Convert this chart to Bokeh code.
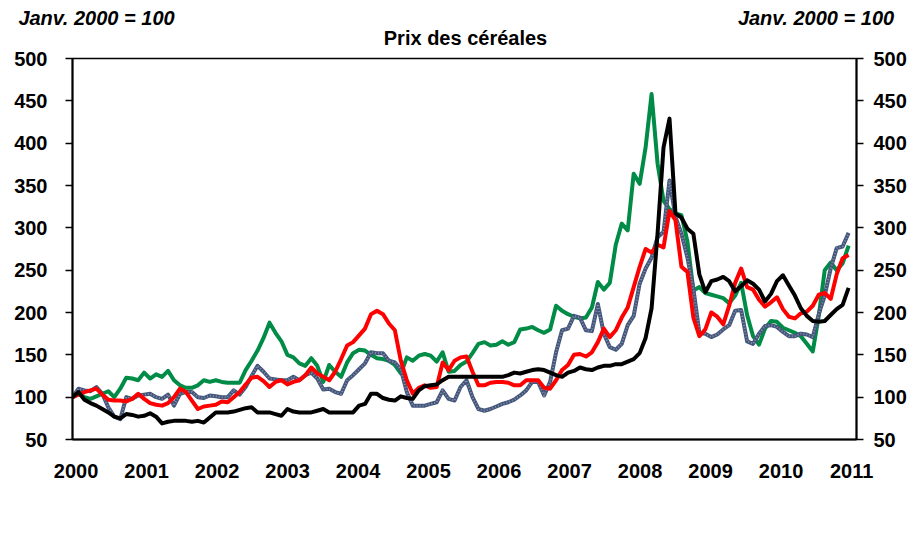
from bokeh.plotting import figure
from bokeh.models import (Range1d, LinearAxis, FixedTicker, CustomJSTickFormatter,
                          Legend, LegendItem, ColumnDataSource)
from bokeh.embed import file_html
from bokeh.resources import INLINE

# ---------------- data (monthly index, Jan 2000 = 100) ----------------
year_labels = ["2000", "2001", "2002", "2003", "2004", "2005",
               "2006", "2007", "2008", "2009", "2010", "2011"]
y_ticks = [50, 100, 150, 200, 250, 300, 350, 400, 450, 500]
unit_note = "Janv. 2000 = 100"
chart_title = "Prix des céréales"

ble = [100, 104, 100, 98, 101, 104, 107, 100, 110, 123, 122, 120,
       129, 122, 127, 124, 131, 120, 114, 111, 111, 114, 120, 118,
       120, 118, 117, 117, 117, 132, 143, 155, 170, 188, 176, 166,
       150, 147, 140, 137, 146, 137, 118, 138, 130, 124, 141, 152,
       156, 155, 150, 146, 145, 143, 138, 128, 147, 143, 149, 151,
       149, 142, 153, 130, 131, 138, 142, 152, 163, 165, 161, 162,
       166, 162, 165, 180, 181, 183, 179, 176, 180, 208, 202, 198,
       195, 193, 194, 206, 236, 227, 235, 280, 305, 297, 364, 352,
       395, 458, 376, 332, 322, 317, 315, 284, 226, 230, 223, 221,
       219, 217, 211, 220, 235, 197, 172, 162, 181, 190, 189, 182,
       179, 176, 172, 163, 154, 196, 250, 259, 250, 258, 279]

mais = [100, 110, 108, 107, 112, 104, 88, 77, 74, 100, 98, 102,
        103, 104, 100, 98, 103, 90, 104, 106, 106, 100, 99, 102,
        101, 100, 100, 108, 103, 112, 125, 137, 130, 122, 121, 120,
        120, 124, 120, 126, 129, 122, 109, 110, 106, 104, 120, 126,
        133, 140, 153, 152, 152, 143, 141, 133, 106, 90, 90, 90,
        92, 94, 108, 98, 96, 112, 120, 100, 86, 84, 86, 89,
        92, 94, 97, 102, 108, 118, 118, 102, 118, 153, 179, 181,
        196, 194, 179, 178, 210, 175, 159, 156, 163, 185, 196, 234,
        252, 265, 289, 295, 356, 313, 293, 265, 228, 176, 175, 171,
        174, 180, 185, 202, 203, 166, 163, 175, 184, 185, 183, 177,
        172, 172, 175, 174, 171, 198, 220, 252, 276, 278, 294]

soya = [100, 103, 106, 108, 110, 103, 97, 96, 96, 95, 98, 104,
        98, 93, 91, 90, 93, 100, 110, 106, 96, 86, 89, 90,
        91, 95, 94, 100, 106, 115, 123, 124, 119, 112, 118, 120,
        115, 118, 120, 126, 135, 128, 124, 120, 130, 145, 161, 165,
        173, 181, 198, 202, 198, 187, 179, 143, 120, 104, 111, 114,
        111, 112, 141, 132, 143, 147, 148, 130, 114, 114, 117, 118,
        118, 117, 114, 114, 120, 120, 120, 111, 110, 120, 132, 138,
        150, 151, 148, 153, 165, 181, 171, 179, 194, 206, 230, 254,
        275, 271, 280, 277, 320, 309, 254, 248, 194, 172, 180, 200,
        195, 186, 208, 235, 252, 230, 227, 215, 207, 212, 218, 204,
        195, 193, 199, 201, 208, 221, 223, 216, 245, 264, 268]

riz = [100, 106, 97, 93, 90, 86, 82, 77, 75, 80, 79, 77,
       78, 81, 77, 69, 71, 72, 72, 72, 71, 72, 70, 76,
       82, 82, 82, 83, 85, 87, 88, 82, 82, 82, 80, 78,
       86, 83, 82, 82, 82, 84, 86, 82, 82, 82, 82, 82,
       90, 92, 104, 104, 99, 97, 96, 101, 99, 98, 108, 113,
       114, 115, 120, 124, 124, 124, 124, 124, 124, 124, 124, 124,
       124, 126, 129, 128, 130, 132, 133, 132, 129, 126, 124, 129,
       131, 135, 133, 132, 135, 137, 137, 139, 139, 142, 145, 152,
       170, 205, 293, 395, 429, 317, 312, 299, 293, 245, 224, 237,
       239, 242, 237, 225, 231, 238, 234, 227, 213, 222, 237, 244,
       232, 220, 205, 196, 190, 189, 190, 197, 204, 209, 229]

months = list(range(len(ble)))
src = ColumnDataSource(dict(m=months, ble=ble, mais=mais, soya=soya, riz=riz))

FONT = "Liberation Sans"
FS = "20px"
PX_PER_MONTH = 5.97          # horizontal scale of the 784 px wide frame

p = figure(width=910, height=541, frame_width=784, frame_height=381,
           x_range=Range1d(0, 784 / PX_PER_MONTH), y_range=Range1d(50, 500),
           output_backend="svg", toolbar_location=None,
           min_border_left=72, min_border_right=54,
           min_border_top=58, min_border_bottom=102)
p.xgrid.visible = False
p.ygrid.visible = False
p.outline_line_color = "black"
p.outline_line_width = 1.5

# series
r_ble = p.line("m", "ble", source=src, line_color="#008C46", line_width=4, line_join="round")
r_mais = p.line("m", "mais", source=src, line_color="#44557A", line_width=4, line_join="round")
r_mais2 = p.line("m", "mais", source=src, line_color="#8391AD", line_width=2,
                 line_dash="1 2", line_join="round")
r_soya = p.line("m", "soya", source=src, line_color="#FF0000", line_width=4, line_join="round")
r_riz = p.line("m", "riz", source=src, line_color="#000000", line_width=4, line_join="round")

# bottom axis: years
xa = p.xaxis[0]
xa.ticker = FixedTicker(ticks=[0.59 + 11.81 * k for k in range(len(year_labels))])
xa.formatter = CustomJSTickFormatter(args=dict(labels=year_labels), code="return labels[index];")
xa.major_tick_out = 0
xa.major_tick_in = 0
xa.minor_tick_out = 0
xa.minor_tick_in = 0
xa.axis_line_width = 2
xa.major_label_standoff = 24
xa.major_label_text_font = FONT
xa.major_label_text_font_size = FS
xa.major_label_text_font_style = "bold"
xa.major_label_text_color = "black"

# left and right value axes
ya = p.yaxis[0]
ya_r = LinearAxis()
p.add_layout(ya_r, "right")
for ax, standoff in ((ya, 18), (ya_r, 10)):
    ax.ticker = FixedTicker(ticks=y_ticks)
    ax.major_tick_out = 7
    ax.major_tick_in = 0
    ax.minor_tick_out = 0
    ax.minor_tick_in = 0
    ax.axis_line_width = 2
    ax.major_tick_line_width = 1.5
    ax.major_label_standoff = standoff
    ax.major_label_text_font = FONT
    ax.major_label_text_font_size = FS
    ax.major_label_text_font_style = "bold"
    ax.major_label_text_color = "black"


def text_band(centers_px, text, style, standoff):
    """A line-less top band that writes `text` centred at the given frame x-positions."""
    return LinearAxis(ticker=FixedTicker(ticks=[c / PX_PER_MONTH for c in centers_px]),
                      formatter=CustomJSTickFormatter(args=dict(t=text), code="return t;"),
                      axis_line_color=None, major_tick_line_color=None, minor_tick_line_color=None,
                      major_tick_out=0, major_tick_in=0, minor_tick_out=0, minor_tick_in=0,
                      major_label_standoff=standoff, major_label_text_font=FONT,
                      major_label_text_font_size=FS, major_label_text_font_style=style,
                      major_label_text_color="black")


# title row (closest to the frame), then the unit note over both ends
p.add_layout(text_band([393], chart_title, "bold", 10), "above")
p.add_layout(text_band([24, 743.5], unit_note, "bold italic", -5), "above")

legend = Legend(items=[LegendItem(label="Blé", renderers=[r_ble]),
                       LegendItem(label="Maïs", renderers=[r_mais, r_mais2]),
                       LegendItem(label="Soya", renderers=[r_soya]),
                       LegendItem(label="Riz", renderers=[r_riz])],
                location="bottom_center", orientation="horizontal",
                glyph_width=60, glyph_height=20, label_standoff=5, spacing=8,
                padding=0, margin=0, border_line_color=None, background_fill_alpha=0,
                label_text_font=FONT, label_text_font_size=FS, label_text_font_style="bold",
                label_text_color="black")
p.add_layout(legend, "below")

open("out.html", "w").write(file_html(p, INLINE))
